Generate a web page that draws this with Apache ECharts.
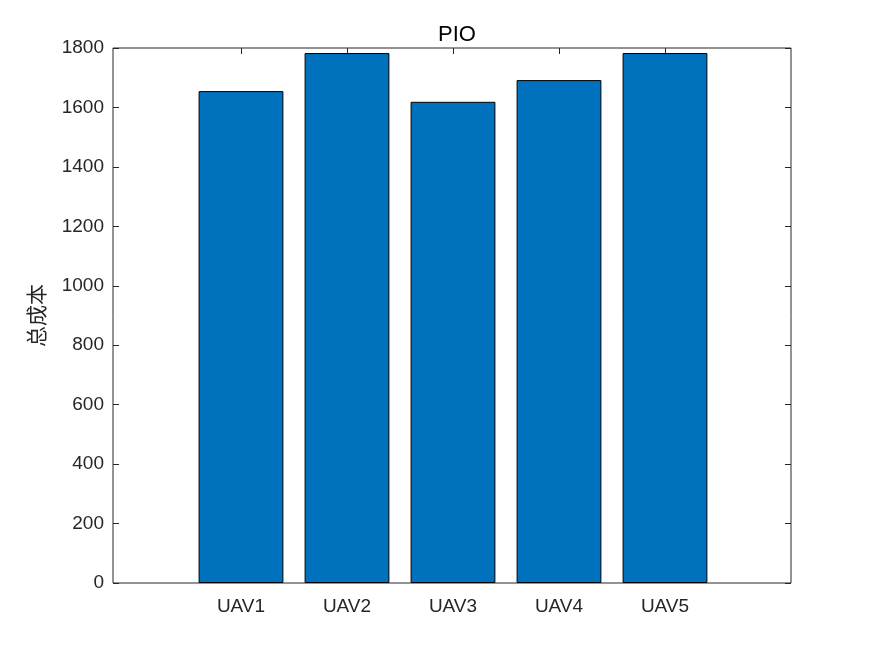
<!DOCTYPE html>
<html>
<head>
<meta charset="utf-8">
<script src="https://cdn.jsdelivr.net/npm/echarts@6/dist/echarts.min.js"></script>
<style>
html,body{margin:0;padding:0;background:#fff;}
#chart{width:875px;height:656px;}
</style>
</head>
<body>
<div id="chart"></div>
<script>
const categories = ['UAV1', 'UAV2', 'UAV3', 'UAV4', 'UAV5'];
const totalCost = [1655, 1783, 1619, 1692, 1783];
const yTicks = [0, 200, 400, 600, 800, 1000, 1200, 1400, 1600, 1800];
const chartTitle = 'PIO';
const yName = '总成本';

const FONT = '"Liberation Sans", Arial, Helvetica, sans-serif';
const AXC = '#262626';
const chart = echarts.init(document.getElementById('chart'), null, {renderer: 'canvas'});

chart.setOption({
  backgroundColor: '#ffffff',
  animation: false,
  title: {
    text: chartTitle,
    left: 452, top: 19, textAlign: 'center',
    textStyle: {fontFamily: FONT, fontSize: 22, fontWeight: 'normal', color: '#000'}
  },
  grid: [
    {left: 113, right: 84, top: 48, bottom: 73, show: true, borderColor: AXC, borderWidth: 1, backgroundColor: 'transparent'},
    {left: 188, right: 157, top: 48, bottom: 73}
  ],
  xAxis: [
    {type: 'value', gridIndex: 0, min: 0, max: 1, show: false},
    {type: 'category', gridIndex: 1, data: categories, position: 'bottom',
     axisLine: {show: false},
     axisTick: {show: true, inside: true, alignWithLabel: true, length: 6, lineStyle: {color: AXC}},
     axisLabel: {fontFamily: FONT, fontSize: 19, color: AXC, margin: 14},
     splitLine: {show: false}},
    {type: 'category', gridIndex: 1, data: categories, position: 'top',
     axisLine: {show: false},
     axisTick: {show: true, inside: true, alignWithLabel: true, length: 6, lineStyle: {color: AXC}},
     axisLabel: {show: false}}
  ],
  yAxis: [
    {type: 'value', gridIndex: 0, min: 0, max: 1800, interval: 200, position: 'left',
     name: yName, nameLocation: 'middle', nameGap: 66, nameRotate: 90,
     nameTextStyle: {fontFamily: '"Noto Sans CJK SC", sans-serif', fontSize: 21, color: AXC},
     axisLine: {show: false},
     axisTick: {show: true, inside: true, length: 6, lineStyle: {color: AXC}},
     axisLabel: {fontFamily: FONT, fontSize: 19, color: AXC, margin: 9,
       formatter: v => yTicks.includes(v) ? String(v) : ''},
     splitLine: {show: false}},
    {type: 'value', gridIndex: 0, min: 0, max: 1800, interval: 200, position: 'right',
     axisLine: {show: false},
     axisTick: {show: true, inside: true, length: 6, lineStyle: {color: AXC}},
     axisLabel: {show: false}, splitLine: {show: false}},
    {type: 'value', gridIndex: 1, min: 0, max: 1800, show: false}
  ],
  series: [{
    type: 'bar',
    xAxisIndex: 1, yAxisIndex: 2,
    data: totalCost,
    barWidth: '80%',
    itemStyle: {color: '#0072BD', borderColor: '#000', borderWidth: 1},
    emphasis: {disabled: true}
  }]
});
</script>
</body>
</html>
